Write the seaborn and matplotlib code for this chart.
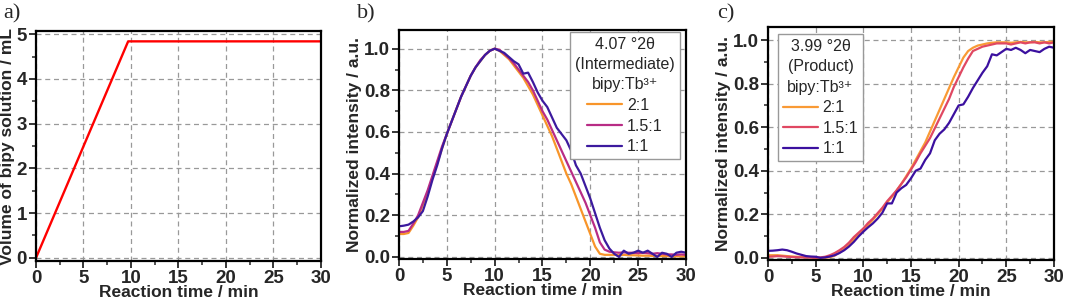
import numpy as np
import pandas as pd
import matplotlib
matplotlib.use("Agg")
import matplotlib.pyplot as plt
import seaborn as sns

#-----------------------------------------------------------------------
# Data
# a) dosing of bipy solution
time_a = [0, 9.7, 30]
volume_a = [0, 4.84, 4.84]

# b) and c) sampled every 0.5 min
time_bc = np.arange(0, 30.01, 0.5)
ratios = ['2:1', '1.5:1', '1:1']

# b) intermediate reflection, 4.07 °2θ
b_2to1 = [0.11, 0.11, 0.115, 0.15, 0.19, 0.25, 0.31, 0.38, 0.45, 0.52,
          0.59, 0.65, 0.71, 0.77, 0.82, 0.87, 0.91, 0.94, 0.97, 0.99,
          1.0, 0.99, 0.97, 0.95, 0.92, 0.89, 0.86, 0.82, 0.78, 0.73,
          0.68, 0.63, 0.58, 0.52, 0.46, 0.40, 0.35, 0.29, 0.23, 0.17,
          0.11, 0.05, 0.015, 0.01, 0.01, 0.01, 0.008, 0.01, 0.008, 0.008,
          0.007, 0.006, 0.006, 0.005, 0.005, 0.004, 0.004, 0.003, 0.003, 0.003,
          0.003]
b_15to1 = [0.12, 0.12, 0.125, 0.16, 0.20, 0.26, 0.32, 0.39, 0.46, 0.53,
           0.59, 0.65, 0.71, 0.77, 0.82, 0.87, 0.91, 0.945, 0.97, 0.99,
           1.0, 0.995, 0.975, 0.955, 0.93, 0.90, 0.87, 0.84, 0.80, 0.75,
           0.70, 0.66, 0.61, 0.56, 0.51, 0.46, 0.41, 0.36, 0.31, 0.26,
           0.20, 0.14, 0.07, 0.035, 0.025, 0.022, 0.02, 0.022, 0.02, 0.02,
           0.018, 0.02, 0.018, 0.015, 0.018, 0.015, 0.012, 0.012, 0.01, 0.012,
           0.01]
b_1to1 = [0.147, 0.15, 0.155, 0.17, 0.19, 0.22, 0.29, 0.37, 0.44, 0.52,
          0.59, 0.65, 0.71, 0.77, 0.82, 0.87, 0.91, 0.94, 0.97, 0.99,
          1.0, 0.99, 0.98, 0.96, 0.94, 0.925, 0.88, 0.885, 0.84, 0.79,
          0.75, 0.72, 0.67, 0.62, 0.59, 0.56, 0.51, 0.44, 0.40, 0.34,
          0.28, 0.21, 0.14, 0.08, 0.04, 0.015, 0.0, 0.03, 0.015, 0.02,
          0.03, 0.02, 0.03, 0.015, 0.0, 0.02, 0.015, 0.0, 0.02, 0.025,
          0.02]

# c) product reflection, 3.99 °2θ
c_2to1 = [0.012, 0.012, 0.012, 0.01, 0.008, 0.006, 0.005, 0.004, 0.003, 0.002,
          0.002, 0.0, 0.0, 0.003, 0.01, 0.025, 0.04, 0.06, 0.085, 0.11,
          0.13, 0.15, 0.175, 0.20, 0.225, 0.255, 0.28, 0.31, 0.34, 0.375,
          0.41, 0.45, 0.49, 0.53, 0.58, 0.63, 0.68, 0.73, 0.78, 0.83,
          0.875, 0.92, 0.95, 0.965, 0.975, 0.98, 0.985, 0.988, 0.99, 0.99,
          0.99, 0.988, 0.99, 0.992, 0.99, 0.99, 0.992, 0.99, 0.99, 0.992,
          0.993]
c_15to1 = [0.005, 0.006, 0.008, 0.007, 0.005, 0.004, 0.003, 0.002, 0.002, 0.001,
           0.0, 0.002, 0.005, 0.012, 0.022, 0.035, 0.05, 0.07, 0.095, 0.115,
           0.135, 0.16, 0.18, 0.205, 0.23, 0.26, 0.285, 0.31, 0.34, 0.37,
           0.405, 0.44, 0.48, 0.515, 0.55, 0.595, 0.64, 0.685, 0.73, 0.785,
           0.83, 0.875, 0.915, 0.95, 0.96, 0.97, 0.975, 0.98, 0.985, 0.985,
           0.985, 0.98, 0.985, 0.99, 0.985, 0.99, 0.99, 0.985, 0.99, 0.985,
           0.99]
c_1to1 = [0.032, 0.033, 0.035, 0.038, 0.035, 0.028, 0.02, 0.014, 0.008, 0.006,
          0.005, 0.0, 0.002, 0.006, 0.012, 0.022, 0.035, 0.052, 0.073, 0.098,
          0.12, 0.14, 0.158, 0.18, 0.207, 0.25, 0.25, 0.30, 0.32, 0.335,
          0.365, 0.40, 0.41, 0.45, 0.48, 0.54, 0.57, 0.59, 0.62, 0.66,
          0.70, 0.705, 0.74, 0.78, 0.815, 0.85, 0.88, 0.935, 0.93, 0.945,
          0.96, 0.955, 0.965, 0.955, 0.94, 0.955, 0.95, 0.945, 0.96, 0.97,
          0.965]

colors_b = ['#F8952A', '#B82C85', '#3C1A9E']
colors_c = ['#F99A35', '#E04862', '#3B109F']

#-----------------------------------------------------------------------
def long_frame(series):
    frames = []
    for label, values in zip(ratios, series):
        frames.append(pd.DataFrame({'time': time_bc, 'value': values, 'ratio': label}))
    return pd.concat(frames, ignore_index=True)

df_a = pd.DataFrame({'time': time_a, 'volume': volume_a})
df_b = long_frame([b_2to1, b_15to1, b_1to1])
df_c = long_frame([c_2to1, c_15to1, c_1to1])

#-----------------------------------------------------------------------
sns.set_style('white')
plt.rcParams['font.family'] = ['Liberation Sans', 'DejaVu Sans']
plt.rcParams['font.weight'] = 'bold'
plt.rcParams['axes.labelweight'] = 'bold'

fig = plt.figure(figsize=(10.65, 2.99), dpi=100)
ax_a = fig.add_axes([0.0338, 0.1271, 0.2676, 0.769])
ax_b = fig.add_axes([0.3746, 0.1338, 0.2695, 0.766])
ax_c = fig.add_axes([0.7211, 0.1304, 0.2685, 0.779])

sns.lineplot(data=df_a, x='time', y='volume', color='#FF0000', linewidth=1.7, ax=ax_a)
sns.lineplot(data=df_b, x='time', y='value', hue='ratio', hue_order=ratios,
             palette=colors_b, linewidth=1.6, estimator=None, ax=ax_b)
sns.lineplot(data=df_c, x='time', y='value', hue='ratio', hue_order=ratios,
             palette=colors_c, linewidth=1.6, estimator=None, ax=ax_c)

ax_a.set_ylim(-0.07, 5.07)
ax_a.set_yticks([0, 1, 2, 3, 4, 5])
ax_a.set_yticks(np.arange(0.5, 5, 1), minor=True)
ax_a.set_ylabel('Volume of bipy solution / mL', fontsize=12.5, labelpad=1)

for ax, lim in ((ax_b, (-0.01, 1.09)), (ax_c, (-0.01, 1.06))):
    ax.set_ylim(*lim)
    ax.set_yticks([0.0, 0.2, 0.4, 0.6, 0.8, 1.0])
    ax.set_yticks(np.arange(0.1, 1.0, 0.2), minor=True)
    ax.set_yticklabels(['0.0', '0.2', '0.4', '0.6', '0.8', '1.0'])
    ax.set_ylabel('Normalized intensity / a.u.', fontsize=12.5, labelpad=1)

for ax in (ax_a, ax_b, ax_c):
    ax.set_xlim(0, 30)
    ax.set_xticks([0, 5, 10, 15, 20, 25, 30])
    ax.set_xticks(np.arange(2.5, 30, 5), minor=True)
    ax.grid(True, which='major', color='#999999', linestyle=(0, (4, 3)), linewidth=0.9)
    ax.set_axisbelow(True)
    for s in ax.spines.values():
        s.set_color('black')
        s.set_linewidth(1.6)
    ax.tick_params(which='major', direction='out', length=5, width=1.3, pad=1.5,
                   bottom=True, left=True, top=False, right=False, labelsize=13.5)
    ax.tick_params(which='minor', direction='out', length=3, width=1.1,
                   bottom=True, left=True, top=False, right=False)
    for lab in ax.get_xticklabels() + ax.get_yticklabels():
        lab.set_fontweight('heavy')
    ax.set_xlabel('Reaction time / min', fontsize=12.5, labelpad=-1.5)

# legends
leg_kw = dict(prop={'size': 11.5, 'weight': 'normal'}, frameon=True, fancybox=False,
              edgecolor='#999999', framealpha=1, borderaxespad=0, labelspacing=0.35,
              handlelength=2.2, handletextpad=0.3, borderpad=0.3)
h, l = ax_b.get_legend_handles_labels()
leg_b = ax_b.legend(h, l, title='4.07 °2θ\n(Intermediate)\nbipy:Tb³⁺',
                    loc='upper right', bbox_to_anchor=(0.978, 0.992), **leg_kw)
h, l = ax_c.get_legend_handles_labels()
leg_c = ax_c.legend(h, l, title='3.99 °2θ\n(Product)\nbipy:Tb³⁺',
                    loc='upper left', bbox_to_anchor=(0.035, 0.97), **leg_kw)
for leg in (leg_b, leg_c):
    leg.get_frame().set_linewidth(1.0)
    t = leg.get_title()
    t.set_multialignment('center')
    t.set_fontsize(11.5)
    t.set_fontweight('normal')
    t.set_linespacing(1.45)

# panel labels
for x, lab in ((0.003, 'a)'), (0.335, 'b)'), (0.673, 'c)')):
    fig.text(x, 0.985, lab, fontsize=16, family='Liberation Serif', fontweight='normal',
             va='top', ha='left')

fig.savefig('out.png', dpi=100)
